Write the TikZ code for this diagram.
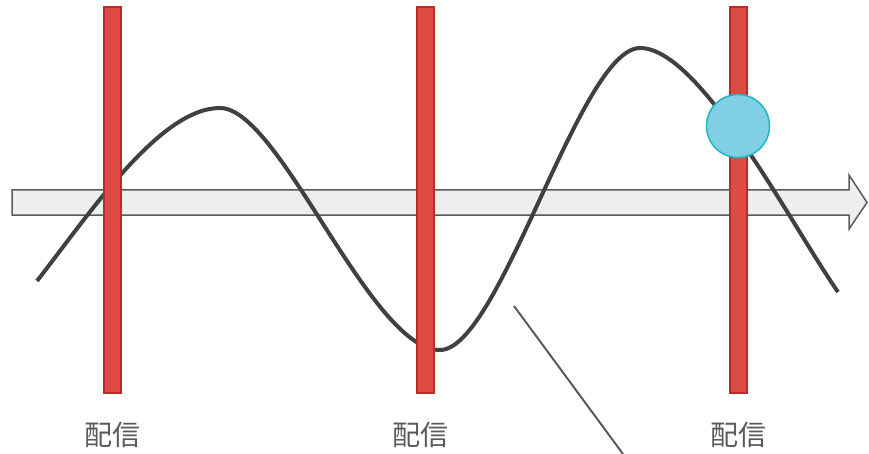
\documentclass[tikz,border=0pt]{standalone}
\usepackage{fontspec}
\newfontfamily\cjk{Noto Sans CJK JP}
\definecolor{barred}{RGB}{221, 75, 68}
\definecolor{bardark}{RGB}{190, 42, 36}
\definecolor{dotblue}{RGB}{128, 207, 228}
\definecolor{dotedge}{RGB}{32, 184, 194}
\definecolor{wavegray}{RGB}{64, 64, 64}
\definecolor{axisfill}{RGB}{238, 238, 238}
\definecolor{axisgray}{RGB}{90, 90, 90}
\usetikzlibrary{positioning}

\begin{document}
\begin{tikzpicture}[x=1pt, y=1pt,
    deliver/.style={draw=bardark, fill=barred, line width=1.5pt,
        minimum width=17pt, minimum height=386pt, inner sep=0pt},
    lbl/.style={font=\cjk\fontsize{28}{30}\selectfont, text=axisgray}]
  \useasboundingbox (0,0) rectangle (869,453);
  % time axis
  \draw[axisgray, fill=axisfill, line width=1.5pt]
    (12,238) -- (849,238) -- (849,224) -- (867,250.5)
    -- (849,278) -- (849,263) -- (12,263) -- cycle;
  % wave
  \draw[wavegray, line width=4pt]
    (37,172) .. controls (90,240) and (160,345) .. (220,345)
    .. controls (280,345) and (370,103) .. (440,103)
    .. controls (500,103) and (580,405) .. (640,405)
    .. controls (700,405) and (790,230) .. (838,161);
  % delivery bars
  \node[deliver] (bar1) at (112.5,253) {};
  \node[deliver] (bar2) at (425.5,253) {};
  \node[deliver] (bar3) at (738.5,253) {};
  \node[lbl, below=25pt of bar1] (lbl1) {配信};
  \node[lbl, below=25pt of bar2, xshift=-5pt] (lbl2) {配信};
  \node[lbl, below=25pt of bar3] (lbl3) {配信};
  \node[circle, draw=dotedge, fill=dotblue, line width=1.5pt,
        minimum size=63pt, inner sep=0pt] (hit) at (738,327) {};
  % pointer
  \coordinate (ptrA) at (514,147);
  \coordinate (ptrB) at (623,-1);
  \draw[axisgray, line width=2pt] (ptrA) -- (ptrB);
\end{tikzpicture}
\end{document}
